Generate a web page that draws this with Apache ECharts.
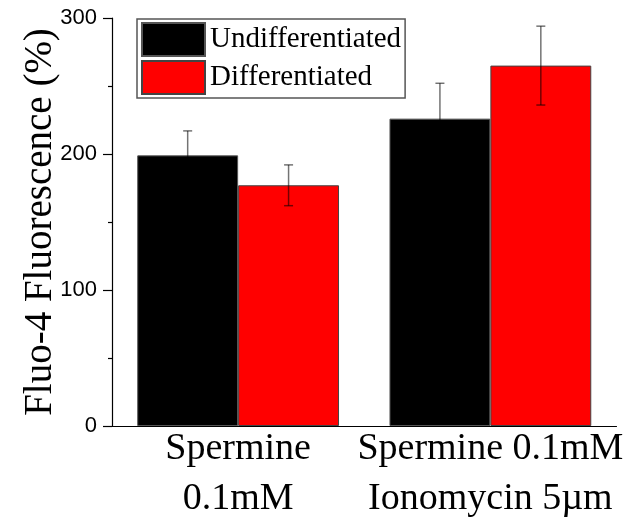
<!DOCTYPE html>
<html>
<head>
<meta charset="utf-8">
<script src="https://cdn.jsdelivr.net/npm/echarts@6/dist/echarts.min.js"></script>
<style>html,body{margin:0;padding:0;background:#fff;}#c{width:637px;height:524px;}</style>
</head>
<body>
<div id="c"></div>
<script>
var categories = ['Spermine\n0.1mM', 'Spermine 0.1mM\nIonomycin 5\u00b5m'];
var seriesNames = ['Undifferentiated', 'Differentiated'];
var undiff = [199, 226];
var diff = [177, 265];
var undiffErr = [18, 26];
var diffErr = [15, 29];
var yTicks = [0, 100, 200, 300];

var chart = echarts.init(document.getElementById('c'), null, {renderer: 'canvas'});

function errSeries(vals, errs, side) {
  var data = vals.map(function (v, i) { return [i, v - errs[i], v + errs[i]]; });
  return {
    type: 'custom',
    z: 10,
    silent: true,
    data: data,
    renderItem: function (params, api) {
      var idx = api.value(0);
      var lo = api.coord([idx, api.value(1)]);
      var hi = api.coord([idx, api.value(2)]);
      var band = api.size([1, 0])[0];
      var x = lo[0] + side * band * 0.2;
      var cap = 4.5;
      var st = {stroke: 'rgba(0,0,0,0.55)', lineWidth: 1.5};
      return {
        type: 'group',
        children: [
          {type: 'line', shape: {x1: x, y1: lo[1], x2: x, y2: hi[1]}, style: st},
          {type: 'line', shape: {x1: x - cap, y1: hi[1], x2: x + cap, y2: hi[1]}, style: st},
          {type: 'line', shape: {x1: x - cap, y1: lo[1], x2: x + cap, y2: lo[1]}, style: st}
        ]
      };
    }
  };
}

var option = {
  animation: false,
  backgroundColor: '#fff',
  grid: {left: 112, right: 20.5, top: 18, bottom: 98, containLabel: false},
  legend: {
    orient: 'vertical',
    left: 137,
    top: 19,
    padding: [3, 4, 3, 4],
    itemWidth: 63,
    itemHeight: 33,
    itemGap: 3,
    borderColor: '#555',
    borderWidth: 1.5,
    icon: 'rect',
    data: seriesNames,
    textStyle: {fontFamily: 'Liberation Serif', fontSize: 29, lineHeight: 33, color: '#000', padding: [0, 0, 0, 0]}
  },
  xAxis: {
    type: 'category',
    data: categories,
    axisLine: {lineStyle: {color: '#000', width: 1.2}},
    axisTick: {show: false},
    axisLabel: {
      fontFamily: 'Liberation Serif', fontSize: 38, color: '#000',
      lineHeight: 50, margin: -2, interval: 0
    },
    splitLine: {show: false}
  },
  yAxis: {
    type: 'value',
    min: 0,
    max: 300,
    interval: 100,
    name: 'Fluo-4 Fluorescence (%)',
    nameLocation: 'middle',
    nameGap: 52,
    nameMoveOverlap: false,
    nameTextStyle: {fontFamily: 'Liberation Serif', fontSize: 39, color: '#000'},
    axisLine: {show: true, lineStyle: {color: '#000', width: 1.2}},
    axisTick: {show: true, length: 9, lineStyle: {color: '#000', width: 1.2}},
    minorTick: {show: true, splitNumber: 2, length: 4, lineStyle: {color: '#000', width: 1.2}},
    axisLabel: {
      fontFamily: 'Liberation Sans', fontSize: 22, color: '#000', margin: 15,
      formatter: function (v) { return yTicks.indexOf(v) >= 0 ? String(v) : ''; }
    },
    splitLine: {show: false}
  },
  series: [
    {
      name: seriesNames[0], type: 'bar', data: undiff,
      barGap: '0%', barCategoryGap: '20%',
      itemStyle: {color: '#000', borderColor: '#555', borderWidth: 1}
    },
    {
      name: seriesNames[1], type: 'bar', data: diff,
      barGap: '0%', barCategoryGap: '20%',
      itemStyle: {color: '#ff0000', borderColor: '#444', borderWidth: 1}
    },
    errSeries(undiff, undiffErr, -1),
    errSeries(diff, diffErr, 1)
  ]
};
chart.setOption(option);
</script>
</body>
</html>
